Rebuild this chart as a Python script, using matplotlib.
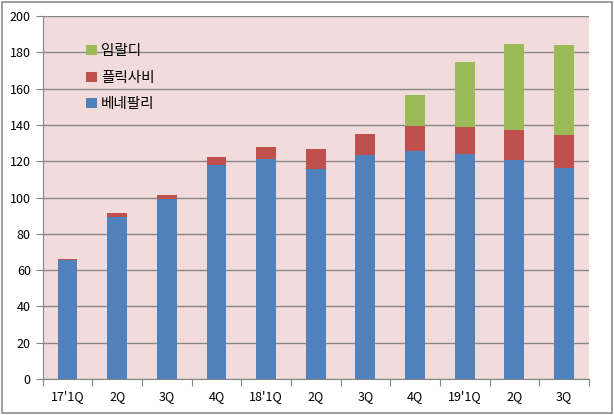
import matplotlib.pyplot as plt
import matplotlib.patches as mpatches
import numpy as np

plt.rcParams["font.family"] = ["Noto Sans CJK KR", "DejaVu Sans"]

quarters = ["17'1Q", "2Q", "3Q", "4Q", "18'1Q", "2Q", "3Q", "4Q", "19'1Q", "2Q", "3Q"]
benepali = [65.5, 89, 99, 118, 121, 115.7, 123.4, 125.6, 124, 120.7, 116.4]
flixabi = [0.6, 2.2, 2.3, 4.5, 6.7, 11, 11.8, 13.8, 14.8, 16.5, 18]
imraldi = [0, 0, 0, 0, 0, 0, 0, 17, 36, 47.5, 49.6]

C_BLUE = "#4F81BD"
C_RED = "#C0504D"
C_GREEN = "#9BBB59"

fig = plt.figure(figsize=(6.14, 4.15), dpi=100)
fig.patch.set_facecolor("white")
fig.patches.append(mpatches.Rectangle((0.004, 0.006), 0.992, 0.988, transform=fig.transFigure,
                                      fill=False, edgecolor="#8c8c8c", linewidth=1.2))

ax = fig.add_axes([0.0695, 0.0867, 0.8895, 0.8747])
ax.set_facecolor("#F2DCDB")

x = np.arange(len(quarters))
b = np.array(benepali)
f = np.array(flixabi)
g = np.array(imraldi)
w = 0.4
ax.bar(x, b, w, color=C_BLUE, label="베네팔리", zorder=3)
ax.bar(x, f, w, bottom=b, color=C_RED, label="플릭사비", zorder=3)
ax.bar(x, g, w, bottom=b + f, color=C_GREEN, label="임랄디", zorder=3)

ax.set_xlim(-0.5, len(quarters) - 0.5)
ax.set_ylim(0, 200)
ax.set_yticks(range(0, 201, 20))
ax.yaxis.grid(True, color="#868686", linewidth=1.0, zorder=1)

ax.set_xticks(np.arange(-0.5, len(quarters), 1.0))
ax.set_xticklabels([])
ax.set_xticks(x, minor=True)
ax.set_xticklabels(quarters, minor=True)
ax.tick_params(axis="x", which="major", length=5, color="#868686", direction="out")
ax.tick_params(axis="x", which="minor", length=0, pad=8, labelsize=9)
ax.tick_params(axis="y", length=5, color="#868686", labelsize=9)

for s in ["top", "right"]:
    ax.spines[s].set_visible(False)
for s in ["left", "bottom"]:
    ax.spines[s].set_color("#868686")

handles, labels = ax.get_legend_handles_labels()
ax.legend(handles[::-1], labels[::-1], loc="upper left", bbox_to_anchor=(0.056, 0.958),
          frameon=False, fontsize=10.5, handlelength=0.7, handleheight=0.7,
          handletextpad=0.3, labelspacing=0.85)

fig.savefig("out.png", dpi=100)
